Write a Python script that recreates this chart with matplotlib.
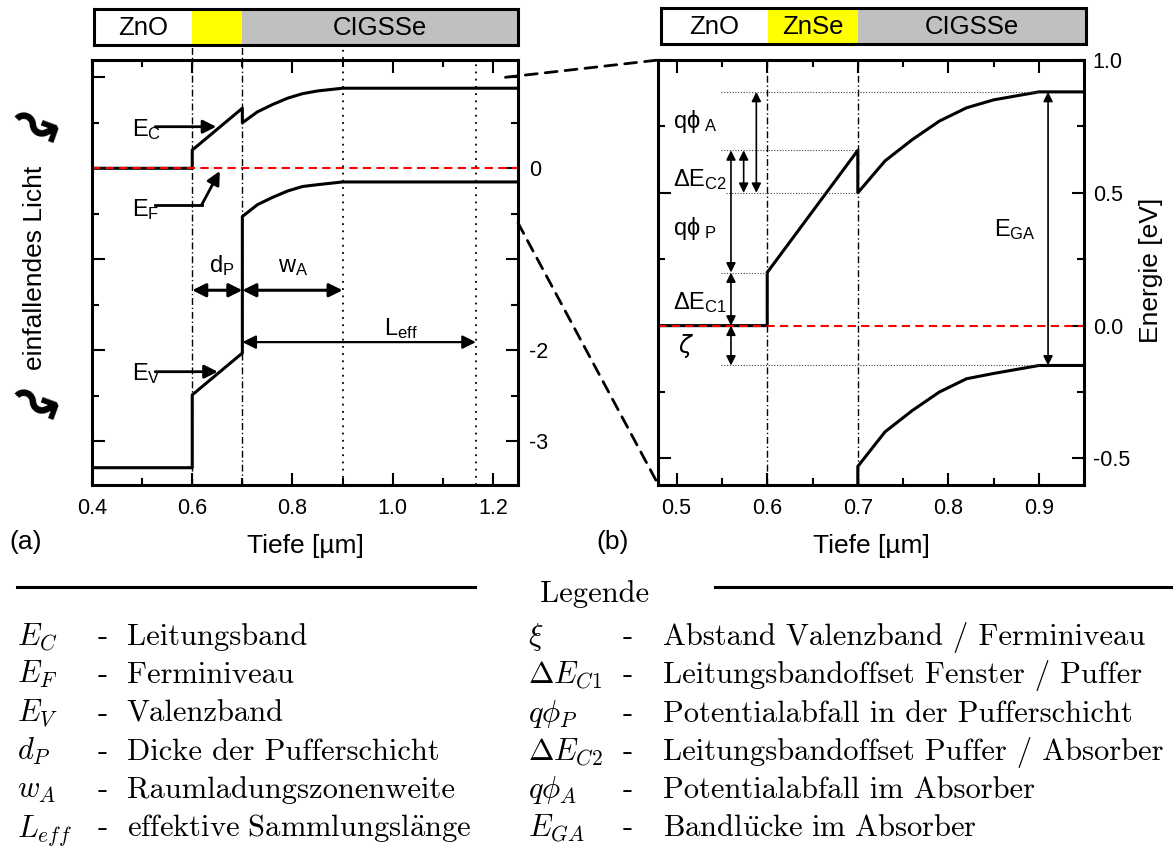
import matplotlib.pyplot as plt
from matplotlib.patches import ConnectionPatch
from matplotlib.lines import Line2D
from matplotlib.ticker import MultipleLocator, FuncFormatter

plt.rcParams['font.family'] = ['Liberation Sans', 'DejaVu Sans']
plt.rcParams['axes.unicode_minus'] = False

W, H = 1173, 861

# band diagram (depth in µm, energy in eV, E_F = 0)
depth = [0.40, 0.60, 0.60, 0.70, 0.70, 0.73, 0.76, 0.79, 0.82, 0.85, 0.90, 1.25]
e_c = [0.00, 0.00, 0.20, 0.66, 0.50, 0.62, 0.70, 0.77, 0.82, 0.85, 0.88, 0.88]
e_v = [-3.29, -3.29, -2.49, -2.03, -0.53, -0.40, -0.32, -0.25, -0.20, -0.18, -0.15, -0.15]
e_f = 0.0

# layer stack
buffer_start, buffer_end = 0.6, 0.7
sce_end = 0.9          # end of space charge region
leff_end = 1.166       # end of collection length
layer_colors = ['white', '#ffff00', '#c0c0c0']

# energy levels used for the annotations in (b)
ec_flat, ec_peak, ec_step, ec_buf, ev_flat = 0.88, 0.66, 0.50, 0.20, -0.15

legend_left_sym = [r'$E_C$', r'$E_F$', r'$E_V$', r'$d_P$', r'$w_A$', r'$L_{eff}$']
legend_left_txt = ['Leitungsband', 'Ferminiveau', 'Valenzband', 'Dicke der Pufferschicht',
                   'Raumladungszonenweite', r'$\mathrm{effektive\ Sammlungsl\ddot{a}nge}$']
legend_right_sym = [r'$\xi$', r'$\Delta E_{C1}$', r'$q\phi_P$', r'$\Delta E_{C2}$',
                    r'$q\phi_A$', r'$E_{GA}$']
legend_right_txt = ['Abstand Valenzband / Ferminiveau', 'Leitungsbandoffset Fenster / Puffer',
                    'Potentialabfall in der Pufferschicht', 'Leitungsbandoffset Puffer / Absorber',
                    'Potentialabfall im Absorber', r'$\mathrm{Bandl\ddot{u}cke\ im\ Absorber}$']


def fx(px):
    return px / W


def fy(py):
    return 1 - py / H


def rect(x0, y0, x1, y1):
    return [fx(x0), fy(y1), fx(x1) - fx(x0), fy(y0) - fy(y1)]


def style(ax, xmaj, xmin, ymaj, ymin, xpad, ypad):
    ax.xaxis.set_major_locator(MultipleLocator(xmaj))
    ax.xaxis.set_minor_locator(MultipleLocator(xmin))
    ax.yaxis.set_major_locator(MultipleLocator(ymaj))
    ax.yaxis.set_minor_locator(MultipleLocator(ymin))
    ax.tick_params(which='both', direction='in', top=True, bottom=True, left=True, right=True,
                   labelleft=False, labelright=True, width=1.5, labelsize=15.5)
    ax.tick_params(which='major', length=9)
    ax.tick_params(which='minor', length=5)
    ax.tick_params(axis='x', pad=xpad)
    ax.tick_params(axis='y', pad=ypad)
    for s in ax.spines.values():
        s.set_linewidth(2.2)


def layer_bar(r, xlim, names):
    bx = fig.add_axes(r)
    bx.set_xlim(xlim)
    bx.set_ylim(0, 1)
    edges = [xlim[0], buffer_start, buffer_end, xlim[1]]
    for i in range(3):
        bx.axvspan(edges[i], edges[i + 1], color=layer_colors[i], lw=0)
        if names[i]:
            bx.text((edges[i] + edges[i + 1]) / 2, 0.47, names[i], ha='center', va='center', size=18.5)
    bx.set_xticks([])
    bx.set_yticks([])
    for s in bx.spines.values():
        s.set_linewidth(2.2)
    return bx


def darrow(ax, x0, y0, x1, y1, lw=2, ms=20):
    ax.annotate('', xy=(x1, y1), xytext=(x0, y0),
                arrowprops=dict(arrowstyle='<|-|>', lw=lw, color='k', mutation_scale=ms,
                                shrinkA=0, shrinkB=0))


def sarrow(ax, x0, y0, x1, y1, lw=2, ms=20):
    ax.annotate('', xy=(x1, y1), xytext=(x0, y0),
                arrowprops=dict(arrowstyle='-|>', lw=lw, color='k', mutation_scale=ms,
                                shrinkA=0, shrinkB=0))


fig = plt.figure(figsize=(W / 100, H / 100), dpi=100)

# ---------------- (a) ----------------
ax1 = fig.add_axes(rect(92, 60, 518, 485))
ax1.plot(depth, e_c, color='k', lw=2.2)
ax1.plot(depth, e_v, color='k', lw=2.2)
ax1.axhline(e_f, color='red', lw=1.5, ls=(0, (4, 2.5)))
ax1.set_xlim(0.4, 1.25)
ax1.set_ylim(-3.48, 1.19)
style(ax1, 0.2, 0.1, 1, 0.5, 9, 8)
shown = [0, -2, -3]
ax1.yaxis.set_major_formatter(FuncFormatter(
    lambda v, p: f'{v:.0f}' if any(abs(v - s) < 1e-6 for s in shown) else ''))
ax1.xaxis.set_major_formatter(FuncFormatter(lambda v, p: f'{v:.1f}'))

for xv in (buffer_start, buffer_end):
    ax1.axvline(xv, ymax=1.036, color='k', lw=1, ls=(0, (5, 2, 1, 2)), clip_on=False)
ax1.axvline(sce_end, ymax=1.036, color='k', lw=1.3, ls=(0, (1, 3)), clip_on=False)
ax1.axvline(leff_end, color='k', lw=1.3, ls=(0, (1, 3)))

fs = 17
ax1.text(0.48, 0.35, r'$\mathregular{E_C}$', size=fs, ha='left', va='baseline')
sarrow(ax1, 0.526, 0.457, 0.648, 0.457)
ax1.text(0.48, -0.53, r'$\mathregular{E_F}$', size=fs, ha='left', va='baseline')
ax1.plot([0.526, 0.619], [-0.40, -0.40], color='k', lw=2)
sarrow(ax1, 0.619, -0.40, 0.655, -0.03)
ax1.text(0.48, -2.33, r'$\mathregular{E_V}$', size=fs, ha='left', va='baseline')
sarrow(ax1, 0.526, -2.235, 0.651, -2.235)

darrow(ax1, buffer_start, -1.34, buffer_end, -1.34, lw=2.2)
darrow(ax1, buffer_end, -1.34, sce_end, -1.34, lw=2.2)
darrow(ax1, buffer_end, -1.91, leff_end, -1.91, lw=1.6)
ax1.text(0.633, -1.14, r'$\mathregular{d_P}$', size=fs, ha='left', va='baseline')
ax1.text(0.772, -1.14, r'$\mathregular{w_A}$', size=fs, ha='left', va='baseline')
ax1.text(0.983, -1.83, r'$\mathregular{L_{eff}}$', size=fs, ha='left', va='baseline')

layer_bar(rect(94, 9, 518, 45), (0.404, 1.25), ['ZnO', '', 'CIGSSe'])

# ---------------- (b) ----------------
ax2 = fig.add_axes(rect(658.5, 60, 1084.3, 485))
ax2.plot(depth, e_c, color='k', lw=2.2)
ax2.plot(depth, e_v, color='k', lw=2.2)
ax2.axhline(e_f, color='red', lw=1.5, ls=(0, (4, 2.5)))
ax2.set_xlim(0.48, 0.95)
ax2.set_ylim(-0.6, 1.0)
style(ax2, 0.1, 0.05, 0.5, 0.25, 9, 6)
ax2.xaxis.set_major_formatter(FuncFormatter(lambda v, p: f'{v:.1f}'))
ax2.yaxis.set_major_formatter(FuncFormatter(lambda v, p: f'{v:.1f}'))
for xv in (buffer_start, buffer_end):
    ax2.axvline(xv, color='k', lw=1, ls=(0, (5, 2, 1, 2)))

guide = dict(color='#444444', lw=0.8, ls=(0, (1, 1.5)))
ax2.plot([0.549, sce_end], [ec_flat, ec_flat], **guide)
ax2.plot([0.549, buffer_end], [ec_peak, ec_peak], **guide)
ax2.plot([0.555, buffer_end], [ec_step, ec_step], **guide)
ax2.plot([0.549, buffer_start], [ec_buf, ec_buf], **guide)
ax2.plot([0.549, sce_end], [ev_flat, ev_flat], **guide)

darrow(ax2, 0.588, ec_flat, 0.588, ec_step, lw=1.2, ms=14)
darrow(ax2, 0.574, ec_peak, 0.574, ec_step, lw=1.2, ms=14)
darrow(ax2, 0.560, ec_peak, 0.560, ec_buf, lw=1.2, ms=14)
darrow(ax2, 0.560, ec_buf, 0.560, e_f, lw=1.2, ms=14)
darrow(ax2, 0.560, e_f, 0.560, ev_flat, lw=1.2, ms=14)
darrow(ax2, 0.910, ec_flat, 0.910, ev_flat, lw=1.2, ms=14)

ax2.text(0.496, 0.744, r'$\mathregular{q\phi_{\ A}}$', size=fs, ha='left', va='baseline')
ax2.text(0.496, 0.524, r'$\mathregular{\Delta E_{C2}}$', size=fs, ha='left', va='baseline')
ax2.text(0.496, 0.342, r'$\mathregular{q\phi_{\ P}}$', size=fs, ha='left', va='baseline')
ax2.text(0.496, 0.063, r'$\mathregular{\Delta E_{C1}}$', size=fs, ha='left', va='baseline')
ax2.text(0.502, -0.103, r'$\zeta$', size=fs, ha='left', va='baseline')
ax2.text(0.85, 0.336, r'$\mathregular{E_{GA}}$', size=fs, ha='left', va='baseline')

layer_bar(rect(661.4, 8.3, 1086, 44.3), (0.483, 0.951), ['ZnO', 'ZnSe', 'CIGSSe'])

# zoom connectors
for (xa, ya), (xb, yb) in [((1.225, 1.0), (0.48, 1.0)), ((1.25, -0.6), (0.48, -0.6))]:
    con = ConnectionPatch(xyA=(xa, ya), coordsA=ax1.transData, xyB=(xb, yb), coordsB=ax2.transData,
                          color='k', lw=2, ls=(0, (4.3, 2.9)))
    fig.add_artist(con)

# outer labels
fig.text(fx(305), fy(546), 'Tiefe [µm]', size=19, ha='center', va='center')
fig.text(fx(871), fy(546), 'Tiefe [µm]', size=19, ha='center', va='center')
fig.text(fx(26), fy(542), '(a)', size=19, ha='center', va='center')
fig.text(fx(613), fy(542), '(b)', size=19, ha='center', va='center')
fig.text(fx(1151), fy(270), 'Energie [eV]', size=19, rotation=90, ha='center', va='center')
fig.text(fx(35), fy(268), 'einfallendes Licht', size=19, rotation=90, ha='center', va='center')
for yy in (125, 402):
    fig.text(fx(35), fy(yy), '\u219d', size=40, family='DejaVu Sans', weight='bold',
             rotation=-20, ha='center', va='center')

# legend
serif = ['cmr10', 'DejaVu Serif']
fig.add_artist(Line2D([fx(17), fx(475)], [fy(586.7), fy(586.7)], color='k', lw=2.2))
fig.add_artist(Line2D([fx(715), fx(1173)], [fy(586.7), fy(586.7)], color='k', lw=2.2))
fig.text(fx(595), fy(601.7), 'Legende', family=serif, size=22, ha='center', va='baseline')
for i in range(6):
    yb = fy(645 + 38.3 * i)
    fig.text(fx(17), yb, legend_left_sym[i], size=22, math_fontfamily='cm', va='baseline')
    fig.text(fx(103), yb, '-', family=serif, size=22, ha='center', va='baseline')
    fig.text(fx(126.7), yb, legend_left_txt[i], family=serif, size=22, math_fontfamily='cm',
             va='baseline')
    fig.text(fx(528), yb, legend_right_sym[i], size=22, math_fontfamily='cm', va='baseline')
    fig.text(fx(628), yb, '-', family=serif, size=22, ha='center', va='baseline')
    fig.text(fx(663.3), yb, legend_right_txt[i], family=serif, size=22, math_fontfamily='cm',
             va='baseline')

fig.savefig('out.png', dpi=100)
